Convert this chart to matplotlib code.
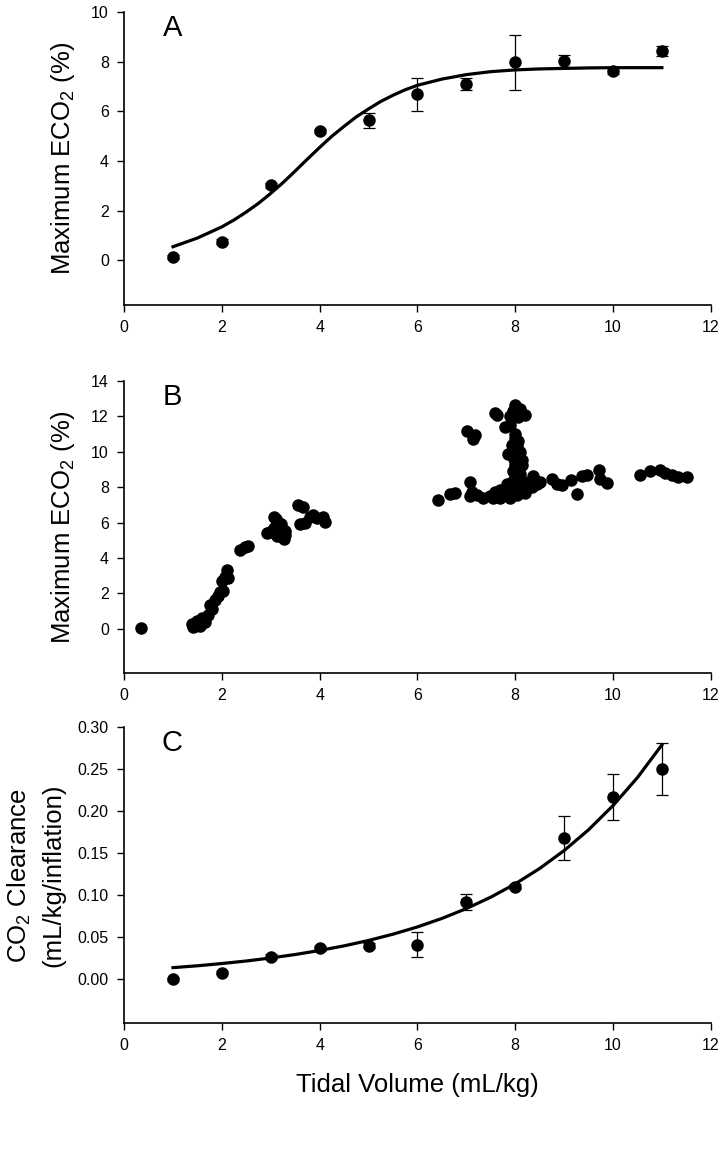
import matplotlib
matplotlib.use('Agg')
import matplotlib.pyplot as plt

plt.rcParams['font.family'] = ['Liberation Sans', 'DejaVu Sans']
plt.rcParams['mathtext.default'] = 'regular'

# panel A / C : mean +- error vs tidal volume
vt = [1, 2, 3, 4, 5, 6, 7, 8, 9, 10, 11]
a_mean = [0.13, 0.74, 3.02, 5.21, 5.64, 6.68, 7.11, 7.97, 8.04, 7.61, 8.43]
a_err = [0.08, 0.1, 0.1, 0.1, 0.3, 0.65, 0.25, 1.1, 0.25, 0.12, 0.2]
c_mean = [0.0, 0.008, 0.0266, 0.037, 0.040, 0.041, 0.092, 0.110, 0.168, 0.217, 0.250]
c_err = [0.002, 0.002, 0.003, 0.003, 0.003, 0.015, 0.01, 0.003, 0.0265, 0.027, 0.031]

# fitted curves
a_fit_x = [1.0, 1.5, 2.0, 2.25, 2.5, 2.75, 3.0, 3.25, 3.5, 3.75, 4.0, 4.25, 4.5,
           4.75, 5.0, 5.25, 5.5, 5.75, 6.0, 6.5, 7.0, 7.5, 8.0, 8.5, 9.0, 9.5,
           10.0, 10.5, 11.0]
a_fit = [0.55, 0.9, 1.35, 1.63, 1.95, 2.3, 2.7, 3.13, 3.6, 4.08, 4.55, 5.0, 5.4,
         5.78, 6.1, 6.4, 6.65, 6.87, 7.05, 7.3, 7.48, 7.6, 7.67, 7.71, 7.73, 7.75,
         7.76, 7.76, 7.76]
c_fit_x = [1.0, 1.5, 2.0, 2.5, 3.0, 3.5, 4.0, 4.5, 5.0, 5.5, 6.0,
           6.5, 7.0, 7.5, 8.0, 8.5, 9.0, 9.5, 10.0, 10.5, 11.0]
c_fit = [0.0139, 0.0161, 0.0188, 0.0218, 0.0254, 0.0295, 0.0343, 0.0398, 0.0462, 0.0537, 0.0623,
         0.0724, 0.0841, 0.0977, 0.1135, 0.1318, 0.1531, 0.1778, 0.2066, 0.2399, 0.2787]

# panel B : individual breaths
b_x = [0.35,
       1.38, 1.45, 1.49, 1.55, 1.59, 1.66, 1.40, 1.52,
       1.72, 1.76, 1.80, 1.86, 1.93, 1.96, 2.03, 2.00, 2.07, 2.13, 2.10,
       2.37, 2.47, 2.54,
       2.92, 2.99, 3.02, 3.06, 3.06, 3.13, 3.16, 3.20, 3.24, 3.26, 3.29, 3.30, 3.12, 3.19, 3.10,
       3.55, 3.65, 3.60, 3.70, 3.80, 3.87, 4.06, 4.10, 3.95,
       6.43, 6.67, 6.77,
       7.01, 7.18, 7.14,
       7.08, 7.11, 7.08, 7.21, 7.35, 7.48, 7.59, 7.69, 7.55,
       7.59, 7.62, 7.79, 7.89,
       8.00, 7.96, 8.10, 8.20, 7.89, 8.06,
       8.00, 8.03, 7.93, 8.10, 7.96, 8.13, 7.86, 8.00, 8.13, 7.96, 8.10, 8.03, 7.93, 7.83,
       8.17, 8.06, 7.96, 7.86, 7.76, 8.10, 8.23, 8.34, 8.37, 8.44, 8.51, 7.89, 8.03, 8.20, 7.69,
       8.00, 8.05, 7.98, 8.08, 8.00,
       8.75, 8.85, 8.95, 9.15, 9.26, 9.36, 9.46, 9.72, 9.73, 9.87,
       10.55, 10.76, 10.96, 11.06, 11.20, 11.34, 11.51]
b_y = [0.05,
       0.27, 0.13, 0.45, 0.18, 0.63, 0.36, 0.10, 0.30,
       0.80, 1.34, 1.10, 1.60, 1.84, 2.05, 2.14, 2.68, 2.95, 2.86, 3.30,
       4.45, 4.60, 4.70,
       5.40, 5.45, 5.55, 6.30, 5.70, 6.05, 5.98, 5.90, 5.30, 5.05, 5.27, 5.50, 5.23, 5.70, 6.20,
       7.00, 6.90, 5.90, 6.00, 6.30, 6.40, 6.30, 6.05, 6.25,
       7.30, 7.62, 7.66,
       11.20, 10.96, 10.70,
       8.29, 7.75, 7.48, 7.57, 7.39, 7.48, 7.75, 7.84, 7.39,
       12.20, 12.10, 11.40, 11.50,
       12.66, 12.30, 12.40, 12.10, 12.00, 11.95,
       10.80, 10.30, 10.40, 10.00, 9.80, 9.54, 9.90, 9.27, 9.27, 8.90, 8.73, 8.46, 8.29, 8.20,
       8.29, 8.00, 7.84, 7.66, 7.57, 7.75, 7.93, 8.02, 8.64, 8.20, 8.29, 7.39, 7.57, 7.66, 7.39,
       11.00, 10.60, 9.60, 9.10, 8.60,
       8.46, 8.20, 8.10, 8.41, 7.62, 8.64, 8.70, 8.95, 8.46, 8.23,
       8.70, 8.91, 8.95, 8.82, 8.70, 8.55, 8.55]

fig = plt.figure(figsize=(7.26, 11.59), dpi=100)
axA = fig.add_axes([0.171, 0.7368, 0.808, 0.2528])
axB = fig.add_axes([0.171, 0.4193, 0.808, 0.2520])
axC = fig.add_axes([0.171, 0.1173, 0.808, 0.2554])

axA.errorbar(vt, a_mean, yerr=a_err, fmt='o', color='black', ms=8,
             ecolor='black', elinewidth=0.9, capsize=4.5, capthick=0.9, zorder=3)
axA.plot(a_fit_x, a_fit, color='black', lw=2.3, zorder=2)

axB.plot(b_x, b_y, 'o', color='black', ms=8)

axC.errorbar(vt, c_mean, yerr=c_err, fmt='o', color='black', ms=8,
             ecolor='black', elinewidth=0.9, capsize=4.5, capthick=0.9, zorder=3)
axC.plot(c_fit_x, c_fit, color='black', lw=2.3, zorder=2)

axA.set_ylim(-1.8, 10)
axA.set_yticks([0, 2, 4, 6, 8, 10])
axB.set_ylim(-2.5, 14)
axB.set_yticks([0, 2, 4, 6, 8, 10, 12, 14])
axC.set_ylim(-0.052, 0.30)
axC.set_yticks([0.0, 0.05, 0.10, 0.15, 0.20, 0.25, 0.30])
axC.set_yticklabels(['0.00', '0.05', '0.10', '0.15', '0.20', '0.25', '0.30'])

for ax, letter in zip([axA, axB, axC], ['A', 'B', 'C']):
    ax.set_xlim(0, 12)
    ax.set_xticks([0, 2, 4, 6, 8, 10, 12])
    for s in ['top', 'right']:
        ax.spines[s].set_visible(False)
    for s in ['left', 'bottom']:
        ax.spines[s].set_linewidth(1.2)
    ax.tick_params(direction='out', length=5, width=1, labelsize=11.5, pad=6)
    ax.text(0.082, 0.945, letter, transform=ax.transAxes, fontsize=21,
            ha='center', va='center')

axA.set_ylabel('Maximum ECO$_2$ (%)', fontsize=18.5)
axB.set_ylabel('Maximum ECO$_2$ (%)', fontsize=18.5)
axC.set_ylabel('CO$_2$ Clearance\n(mL/kg/inflation)', fontsize=18.5, linespacing=1.45)
for ax in [axA, axB]:
    ax.yaxis.set_label_coords(-0.08, 0.5)
axC.yaxis.set_label_coords(-0.1, 0.5)
axC.set_xlabel('Tidal Volume (mL/kg)', fontsize=18.5, labelpad=14)

fig.savefig('out.png', dpi=100)
